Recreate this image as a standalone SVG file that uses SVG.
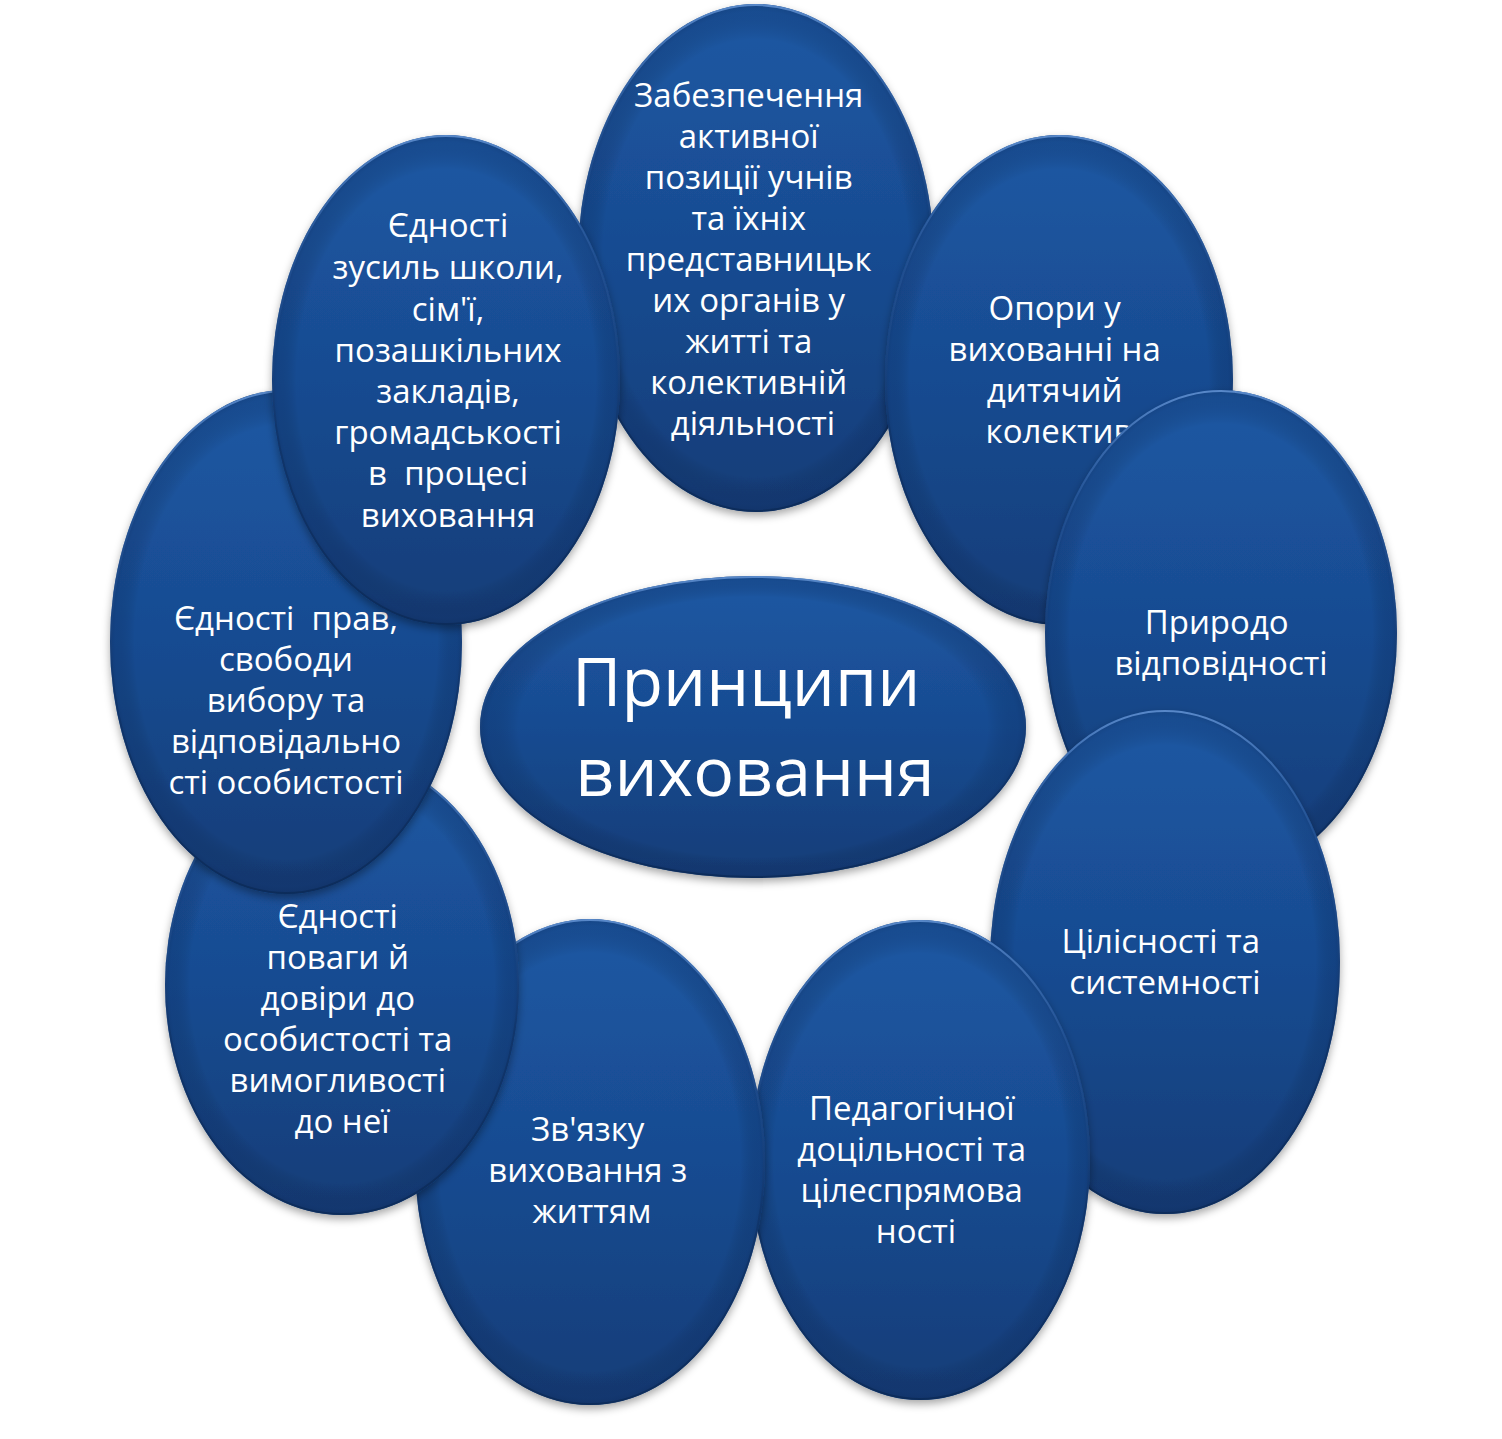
<svg xmlns="http://www.w3.org/2000/svg" width="1502" height="1439" viewBox="0 0 1502 1439">
  <defs>
    <linearGradient id="fillGrad" x1="0" y1="0" x2="0" y2="1">
      <stop offset="0" stop-color="#1d58a3"/>
      <stop offset="0.5" stop-color="#184b91"/>
      <stop offset="1" stop-color="#123d78"/>
    </linearGradient>
    <radialGradient id="edgeShade" cx="0.5" cy="0.5" r="0.5">
      <stop offset="0.86" stop-color="#000" stop-opacity="0"/>
      <stop offset="0.97" stop-color="#0a2450" stop-opacity="0.22"/>
      <stop offset="1" stop-color="#0a2450" stop-opacity="0.35"/>
    </radialGradient>
    <linearGradient id="rimLight" x1="0" y1="0" x2="0" y2="1">
      <stop offset="0" stop-color="#5f8fd0" stop-opacity="0.9"/>
      <stop offset="0.25" stop-color="#3a6db5" stop-opacity="0.3"/>
      <stop offset="0.6" stop-color="#0e2f60" stop-opacity="0.5"/>
      <stop offset="1" stop-color="#0b2a57" stop-opacity="0.8"/>
    </linearGradient>
    <filter id="shadow" x="-20%" y="-20%" width="140%" height="140%">
      <feDropShadow dx="0" dy="4" stdDeviation="4" flood-color="#000" flood-opacity="0.35"/>
    </filter>
  </defs>
  <style>
    .base { fill: url(#fillGrad); filter: url(#shadow); }
    .shade { fill: url(#edgeShade); }
    .rim { fill: none; stroke: url(#rimLight); stroke-width: 2; }
    .t { font-family: "Open Sans", "Noto Sans", "DejaVu Sans", sans-serif; font-size: 33px; font-weight: 500; fill: #ffffff; text-anchor: middle; }
    .big { font-family: "Open Sans", "Noto Sans", "DejaVu Sans", sans-serif; font-size: 68px; fill: #ffffff; text-anchor: middle; }
  </style>
  <rect x="0" y="0" width="1502" height="1439" fill="#ffffff"/>
  <g id="connectors"/>

  <g id="node-zabezpechennia">
    <ellipse class="base" cx="756" cy="258" rx="178" ry="254"/>
    <ellipse class="shade" cx="756" cy="258" rx="178" ry="254"/>
    <ellipse class="rim" cx="756" cy="258" rx="177" ry="253"/>
    <text class="t">
      <tspan x="753" y="107">Забезпечення</tspan>
      <tspan x="753" y="148">активної</tspan>
      <tspan x="753" y="189">позиції учнів</tspan>
      <tspan x="753" y="230">та їхніх</tspan>
      <tspan x="753" y="271">представницьк</tspan>
      <tspan x="753" y="312">их органів у</tspan>
      <tspan x="753" y="353">житті та</tspan>
      <tspan x="753" y="394">колективній</tspan>
      <tspan x="753" y="435">діяльності</tspan>
    </text>
  </g>

  <g id="node-opory">
    <ellipse class="base" cx="1059" cy="380" rx="174" ry="245"/>
    <ellipse class="shade" cx="1059" cy="380" rx="174" ry="245"/>
    <ellipse class="rim" cx="1059" cy="380" rx="173" ry="244"/>
    <text class="t">
      <tspan x="1059" y="320">Опори у</tspan>
      <tspan x="1059" y="361">вихованні на</tspan>
      <tspan x="1059" y="402">дитячий</tspan>
      <tspan x="1059" y="443">колектив</tspan>
    </text>
  </g>

  <g id="node-pryrodo">
    <ellipse class="base" cx="1221" cy="633" rx="176" ry="243"/>
    <ellipse class="shade" cx="1221" cy="633" rx="176" ry="243"/>
    <ellipse class="rim" cx="1221" cy="633" rx="175" ry="242"/>
    <text class="t">
      <tspan x="1221" y="634">Природо</tspan>
      <tspan x="1221" y="675">відповідності</tspan>
    </text>
  </g>

  <g id="node-cilisnosti">
    <ellipse class="base" cx="1165" cy="962" rx="175" ry="252"/>
    <ellipse class="shade" cx="1165" cy="962" rx="175" ry="252"/>
    <ellipse class="rim" cx="1165" cy="962" rx="174" ry="251"/>
    <text class="t">
      <tspan x="1165" y="953">Цілісності та</tspan>
      <tspan x="1165" y="994">системності</tspan>
    </text>
  </g>

  <g id="node-pedagogichnoi">
    <ellipse class="base" cx="920" cy="1160" rx="170" ry="240"/>
    <ellipse class="shade" cx="920" cy="1160" rx="170" ry="240"/>
    <ellipse class="rim" cx="920" cy="1160" rx="169" ry="239"/>
    <text class="t">
      <tspan x="916" y="1120">Педагогічної</tspan>
      <tspan x="916" y="1161">доцільності та</tspan>
      <tspan x="916" y="1202">цілеспрямова</tspan>
      <tspan x="916" y="1243">ності</tspan>
    </text>
  </g>

  <g id="node-zviazku">
    <ellipse class="base" cx="590" cy="1162" rx="175" ry="243"/>
    <ellipse class="shade" cx="590" cy="1162" rx="175" ry="243"/>
    <ellipse class="rim" cx="590" cy="1162" rx="174" ry="242"/>
    <text class="t">
      <tspan x="592" y="1141">Зв'язку</tspan>
      <tspan x="592" y="1182">виховання з</tspan>
      <tspan x="592" y="1223">життям</tspan>
    </text>
  </g>

  <g id="node-povahy">
    <ellipse class="base" cx="342" cy="985" rx="177" ry="230"/>
    <ellipse class="shade" cx="342" cy="985" rx="177" ry="230"/>
    <ellipse class="rim" cx="342" cy="985" rx="176" ry="229"/>
    <text class="t">
      <tspan x="342" y="928">Єдності</tspan>
      <tspan x="342" y="969">поваги й</tspan>
      <tspan x="342" y="1010">довіри до</tspan>
      <tspan x="342" y="1051">особистості та</tspan>
      <tspan x="342" y="1092">вимогливості</tspan>
      <tspan x="342" y="1133">до неї</tspan>
    </text>
  </g>

  <g id="node-prav">
    <ellipse class="base" cx="286" cy="642" rx="176" ry="252"/>
    <ellipse class="shade" cx="286" cy="642" rx="176" ry="252"/>
    <ellipse class="rim" cx="286" cy="642" rx="175" ry="251"/>
    <text class="t" xml:space="preserve"><tspan x="286" y="630">Єдності  прав,</tspan><tspan x="286" y="671">свободи</tspan><tspan x="286" y="712">вибору та</tspan><tspan x="286" y="753">відповідально</tspan><tspan x="286" y="794">сті особистості</tspan></text>
  </g>

  <g id="node-zusyl">
    <ellipse class="base" cx="446" cy="380" rx="174" ry="245"/>
    <ellipse class="shade" cx="446" cy="380" rx="174" ry="245"/>
    <ellipse class="rim" cx="446" cy="380" rx="173" ry="244"/>
    <text class="t" xml:space="preserve"><tspan x="448" y="237">Єдності</tspan><tspan x="448" y="279">зусиль школи,</tspan><tspan x="448" y="321">сім'ї,</tspan><tspan x="448" y="362">позашкільних</tspan><tspan x="448" y="403">закладів,</tspan><tspan x="448" y="444">громадськості</tspan><tspan x="448" y="485">в  процесі</tspan><tspan x="448" y="527">виховання</tspan></text>
  </g>

  <g id="node-center">
    <ellipse class="base" cx="753" cy="727" rx="273" ry="151"/>
    <ellipse class="shade" cx="753" cy="727" rx="273" ry="151"/>
    <ellipse class="rim" cx="753" cy="727" rx="272" ry="150"/>
    <text class="big">
      <tspan x="755" y="706">Принципи</tspan>
      <tspan x="755" y="796">виховання</tspan>
    </text>
  </g>
</svg>
